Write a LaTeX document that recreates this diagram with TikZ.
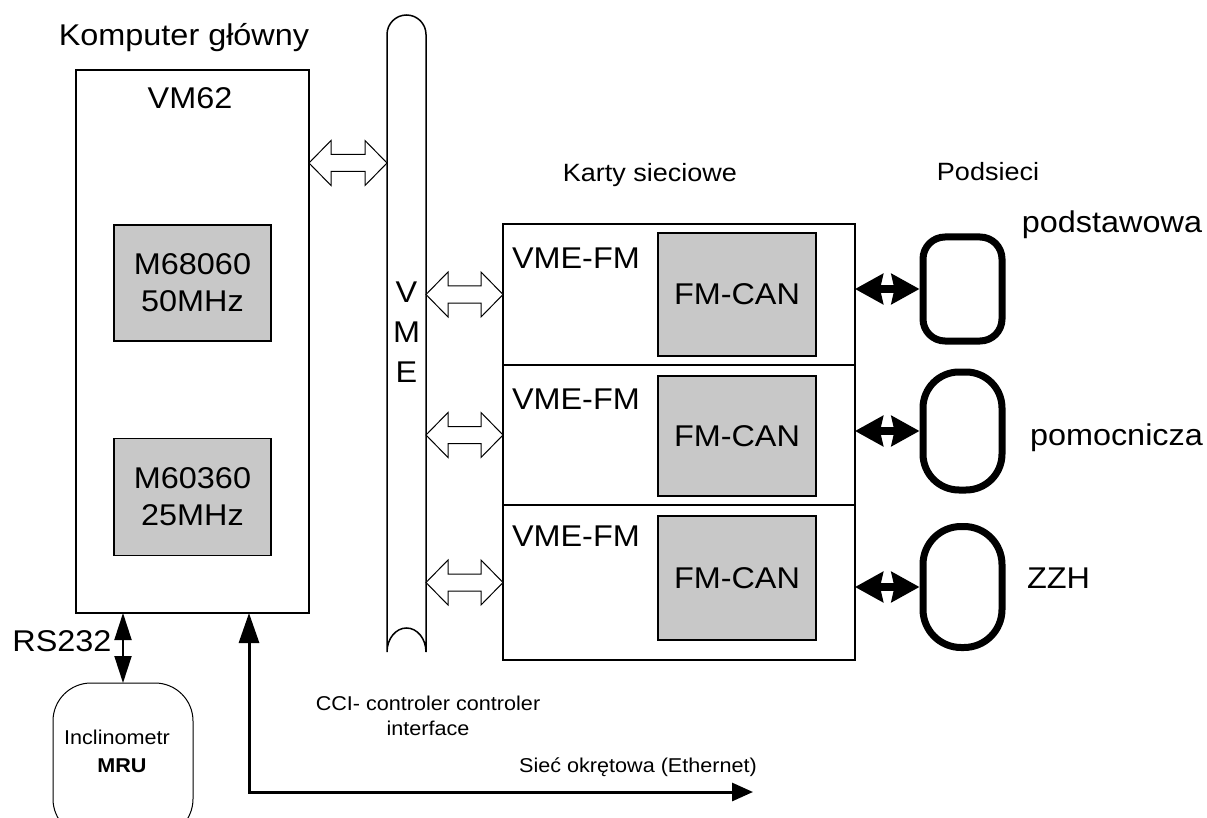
\documentclass[tikz,border=0pt]{standalone}
\usepackage{fontspec}
\setmainfont[FakeStretch=1.08]{Liberation Sans}
\usetikzlibrary{arrows.meta,calc}
\definecolor{boxgray}{RGB}{200,200,200}
\newcommand{\fsz}[1]{\fontsize{#1}{#1}\selectfont}
\newcommand{\harrow}[2]{%
  \draw[hollow] (#1) -- ++(22,-22.5) -- ++(0,14) -- ($(#2)+(-22,-8.5)$) -- ++(0,-14) -- (#2)
    -- ++(-22,22.5) -- ++(0,-14) -- ($(#1)+(22,8.5)$) -- ++(0,14) -- cycle;}
\begin{document}
\begin{tikzpicture}[x=1pt,y=-1pt,
  every node/.style={inner sep=0pt,outer sep=0pt},
  frame/.style={draw,line width=1.5pt,fill=white},
  graybox/.style={draw,line width=1.5pt,fill=boxgray,align=center,font=\fontsize{30}{37}\selectfont},
  big/.style={font=\fsz{30}},
  mid/.style={font=\fsz{25}},
  small/.style={font=\fsz{20}},
  hollow/.style={draw,line width=1pt,fill=white,line join=miter},
  net/.style={draw,line width=7pt,minimum width=79pt,outer sep=3.5pt},
  blackarrow/.style={line width=8pt,{Stealth[length=28pt,width=30pt,inset=3pt]}-{Stealth[length=28pt,width=30pt,inset=3pt]}},
  thinarrow/.style={line width=2pt,{Triangle[length=27pt,width=17pt]}-{Triangle[length=27pt,width=17pt]}},
  etharrow/.style={line width=3pt,line join=miter,{Triangle[length=30pt,width=20pt]}-{Triangle[length=21pt,width=18pt]}}
]
\useasboundingbox (0,0) rectangle (1207,818);
\clip (0,0) rectangle (1207,818);

% main computer
\node[big,anchor=base] (title) at (184,46) {Komputer główny};
\node[frame,minimum width=233pt,minimum height=543pt] (main) at (192.5,341.5) {};
\node[big,anchor=base] (vm62) at (190,109) {VM62};
\node[graybox,minimum width=157pt,minimum height=116pt] (cpu1) at (192.5,283) {M68060\\50MHz};
\node[graybox,minimum width=157pt,minimum height=117pt] (cpu2) at (192.5,497) {M60360\\25MHz};

% VME bus
\draw[line width=1.5pt] (387,652) -- (387,34.5) arc[start angle=180,end angle=360,radius=19.5]
  -- (426,652) arc[start angle=360,end angle=180,x radius=19.5,y radius=24];
\node[minimum width=39pt,minimum height=618pt] (vme) at (406.5,343) {};
\node[align=center,font=\fontsize{30}{40}\selectfont] (vmetxt) at (406.5,332) {V\\M\\E};

% network cards
\node[mid,anchor=base] (karty) at (650,182) {Karty sieciowe};
\node[mid,anchor=base] (podsieci) at (988,181) {Podsieci};
\node[frame,minimum width=352pt,minimum height=141pt] (card1) at (679,294.5) {};
\node[frame,minimum width=352pt,minimum height=140pt] (card2) at (679,435) {};
\node[frame,minimum width=352pt,minimum height=155pt] (card3) at (679,582.5) {};
\node[graybox,minimum width=158pt,minimum height=123pt] (can1) at (737,294.5) {FM-CAN};
\node[graybox,minimum width=158pt,minimum height=120pt] (can2) at (737,436) {FM-CAN};
\node[graybox,minimum width=158pt,minimum height=124pt] (can3) at (737,578) {FM-CAN};
\node[big,anchor=base west] (fm1) at (512,269) {VME-FM};
\node[big,anchor=base west] (fm2) at (512,409) {VME-FM};
\node[big,anchor=base west] (fm3) at (512,546) {VME-FM};

% subnetworks
\node[net,minimum height=104pt,rounded corners=22pt] (net1) at (962.5,289) {};
\node[net,minimum height=118pt,rounded corners=36pt] (net2) at (962.5,431) {};
\node[net,minimum height=121pt,rounded corners=38pt] (net3) at (962.5,587) {};
\node[big,anchor=base] (l1) at (1112,233) {podstawowa};
\node[big,anchor=base west] (l2) at (1030,445) {pomocnicza};
\node[big,anchor=base west] (l3) at (1027,588) {ZZH};

% hollow arrows
\coordinate (h0) at (0,163);
\coordinate (a0) at (main.east |- h0);
\coordinate (b0) at (vme.west |- h0);
\harrow{a0}{b0}
\coordinate (a1) at (vme.east |- card1.west);
\coordinate (a2) at (vme.east |- card2.west);
\coordinate (a3) at (vme.east |- card3.west);
\harrow{a1}{card1.west}
\harrow{a2}{card2.west}
\harrow{a3}{card3.west}

% black arrows
\draw[blackarrow] (card1.east |- net1.west) -- (net1.west);
\draw[blackarrow] (card2.east |- net2.west) -- (net2.west);
\draw[blackarrow] (card3.east |- net3.west) -- (net3.west);

% inclinometer
\node[draw,line width=1pt,rounded corners=38pt,minimum width=140pt,minimum height=154pt] (incl) at (123,760) {};
\node[small,anchor=base] (incltxt) at (117,744) {Inclinometr};
\node[small,anchor=base,font=\fsz{20}\bfseries] (mru) at (122,772) {MRU};
\node[big,anchor=base] (rs) at (62,651) {RS232};
\draw[thinarrow] (incl.north) -- (incl.north |- main.south);

% ethernet
\coordinate (eth) at (249,792);
\coordinate (ethend) at (753,792);
\draw[etharrow] (eth |- main.south) -- (eth) -- (ethend);
\node[small,anchor=base] (cci1) at (428,710) {CCI- controler controler};
\node[small,anchor=base] (cci2) at (428,735) {interface};
\node[small,anchor=base] (siec) at (638,772) {Sieć okrętowa (Ethernet)};
\end{tikzpicture}
\end{document}
